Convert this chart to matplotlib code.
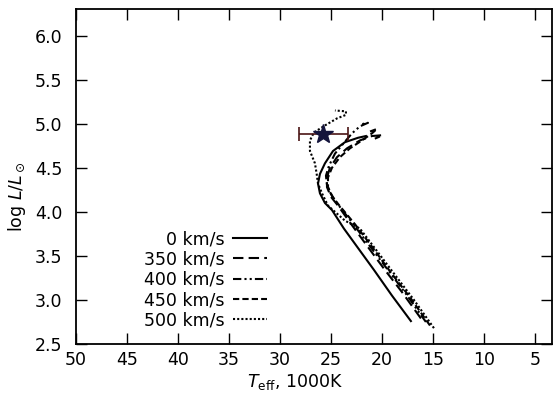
import matplotlib
matplotlib.use('Agg')
from matplotlib import pyplot as plt

# tracks: Teff (1000K) and log L/Lsun
t_0 = [17.16, 19.02, 20.78, 22.35, 23.73, 24.90, 25.59, 26.08, 26.27, 26.08, 25.59, 24.80, 23.63, 22.35, 21.57]
l_0 = [2.76, 3.05, 3.34, 3.59, 3.81, 4.02, 4.10, 4.21, 4.32, 4.43, 4.55, 4.69, 4.79, 4.84, 4.86]

t_350 = [16.18, 18.04, 19.71, 21.37, 23.14, 24.31, 25.00, 25.39, 25.39, 25.10, 24.41, 23.43, 22.16, 20.98, 19.90, 20.70]
l_350 = [2.79, 3.09, 3.34, 3.60, 3.88, 4.07, 4.17, 4.28, 4.39, 4.50, 4.62, 4.72, 4.81, 4.86, 4.87, 4.83]

t_400 = [15.69, 17.65, 19.41, 21.18, 22.94, 24.22, 25.00, 25.39, 25.49, 25.20, 24.61, 23.82, 22.94, 22.16, 21.37, 22.16]
l_400 = [2.75, 3.07, 3.34, 3.61, 3.88, 4.07, 4.20, 4.30, 4.41, 4.52, 4.66, 4.77, 4.89, 4.97, 5.01, 4.99]

t_450 = [15.29, 17.25, 19.12, 20.88, 22.65, 24.02, 24.80, 25.29, 25.29, 24.90, 24.12, 23.14, 21.96, 20.98, 20.50, 21.20]
l_450 = [2.71, 3.03, 3.31, 3.59, 3.86, 4.05, 4.16, 4.28, 4.39, 4.50, 4.62, 4.72, 4.81, 4.89, 4.94, 4.91]

t_500 = [14.90, 16.86, 18.63, 20.39, 22.16, 23.63, 24.51, 25.29, 25.88, 26.27, 26.40, 26.57, 27.06, 27.06, 26.67, 25.59, 24.41, 23.53, 23.53, 24.61]
l_500 = [2.68, 3.00, 3.27, 3.54, 3.81, 3.90, 3.99, 4.07, 4.21, 4.32, 4.43, 4.55, 4.69, 4.81, 4.90, 4.98, 5.06, 5.10, 5.14, 5.15]

# the star
star_t = 25.75
star_l = 4.88
star_terr = 2.4

plt.rcParams['font.size'] = 12.5
fig = plt.figure(figsize=(5.55, 3.97), dpi=100)
ax = fig.add_axes([0.137, 0.1335, 0.858, 0.8435])

ax.plot(t_0, l_0, color='k', linestyle='-', lw=1.5, label='0 km/s')
ax.plot(t_350, l_350, color='k', linestyle=(0, (5, 2.5)), lw=1.5, label='350 km/s')
ax.plot(t_400, l_400, color='k', linestyle=(0, (4, 1.5, 1, 1.5, 1, 1.5)), lw=1.5, label='400 km/s')
ax.plot(t_450, l_450, color='k', linestyle=(0, (3, 1.5)), lw=1.5, label='450 km/s')
ax.plot(t_500, l_500, color='k', linestyle=(0, (1, 1)), lw=1.5, label='500 km/s')

eb = ax.errorbar([star_t], [star_l], xerr=[star_terr], fmt='*', color='#14143c', ms=15,
                 ecolor='#4a1414', elinewidth=1.2, capsize=4.7, capthick=1.2)
for cap in eb[1]:
    cap.set_color('k')

ax.set_xlim(50, 3.3)
ax.set_ylim(2.5, 6.3)
ax.set_xticks([50, 45, 40, 35, 30, 25, 20, 15, 10, 5])
ax.set_yticks([2.5, 3.0, 3.5, 4.0, 4.5, 5.0, 5.5, 6.0])
ax.set_yticklabels(['2.5', '3.0', '3.5', '4.0', '4.5', '5.0', '5.5', '6.0'])
ax.tick_params(axis='both', direction='in', top=True, right=True, length=8, width=1)
ax.tick_params(axis='y', pad=10)
ax.tick_params(axis='x', pad=5)
for s in ax.spines.values():
    s.set_linewidth(1.3)

ax.set_xlabel(r'$T_{\rm eff}$, 1000K', labelpad=1)
ax.xaxis.set_label_coords(0.46, -0.085)
ax.set_ylabel(r'log $L/L_\odot$')
ax.yaxis.set_label_coords(-0.1, 0.44)

ax.legend(loc='lower right', bbox_to_anchor=(0.402, 0.044), frameon=False, markerfirst=False,
          labelspacing=0.13, handlelength=2.0, handletextpad=0.45, borderaxespad=0, borderpad=0)

plt.savefig('out.png', dpi=100)
